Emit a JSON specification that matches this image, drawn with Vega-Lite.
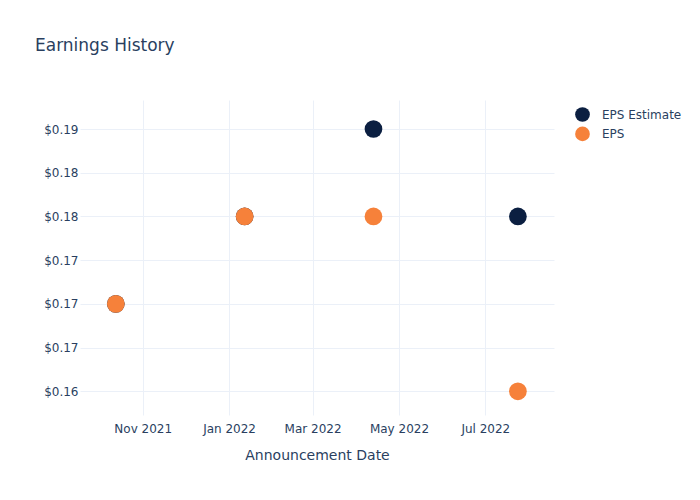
{
  "$schema": "https://vega.github.io/schema/vega-lite/v6.json",
  "width": 474,
  "height": 315,
  "autosize": {"type": "none"},
  "padding": {"left": 80, "top": 100, "right": 146, "bottom": 85},
  "background": "white",
  "config": {
    "view": {"stroke": null},
    "font": "DejaVu Sans"
  },
  "title": {
    "text": "Earnings History",
    "anchor": "start",
    "frame": "group",
    "dx": -45,
    "offset": 32,
    "baseline": "alphabetic",
    "fontSize": 17,
    "fontWeight": "normal",
    "color": "#2a3f5f",
    "font": "DejaVu Sans"
  },
  "data": {
    "values": [
      {"date": "2021-10-13", "series": "EPS Estimate", "value": 0.17},
      {"date": "2022-01-12", "series": "EPS Estimate", "value": 0.18},
      {"date": "2022-04-13", "series": "EPS Estimate", "value": 0.19},
      {"date": "2022-07-24", "series": "EPS Estimate", "value": 0.18},
      {"date": "2021-10-13", "series": "EPS", "value": 0.17},
      {"date": "2022-01-12", "series": "EPS", "value": 0.18},
      {"date": "2022-04-13", "series": "EPS", "value": 0.18},
      {"date": "2022-07-24", "series": "EPS", "value": 0.16}
    ]
  },
  "mark": {"type": "point", "filled": true, "opacity": 1, "size": 314},
  "encoding": {
    "x": {
      "field": "date",
      "type": "temporal",
      "scale": {
        "type": "utc",
        "domain": [
          {"year": 2021, "month": 9, "date": 17, "hours": 17, "utc": true},
          {"year": 2022, "month": 8, "date": 18, "hours": 12, "utc": true}
        ]
      },
      "axis": {
        "title": "Announcement Date",
        "titleFontSize": 14,
        "titleFontWeight": "normal",
        "titleColor": "#2a3f5f",
        "titlePadding": 14,
        "labelExpr": "utcFormat(datum.value, '%b %Y')",
        "values": [
          {"year": 2021, "month": 11, "date": 1, "utc": true},
          {"year": 2022, "month": 1, "date": 1, "utc": true},
          {"year": 2022, "month": 3, "date": 1, "utc": true},
          {"year": 2022, "month": 5, "date": 1, "utc": true},
          {"year": 2022, "month": 7, "date": 1, "utc": true}
        ],
        "labelFontSize": 12,
        "labelColor": "#2a3f5f",
        "labelPadding": 8,
        "ticks": false,
        "domain": false,
        "grid": true,
        "gridColor": "#ebf0f8",
        "gridWidth": 1,
        "labelFlush": false,
        "labelOverlap": false
      }
    },
    "y": {
      "field": "value",
      "type": "quantitative",
      "scale": {"domain": [0.15729, 0.193317], "nice": false, "zero": false},
      "axis": {
        "title": null,
        "values": [0.16, 0.165, 0.17, 0.175, 0.18, 0.18499999999999997, 0.19],
        "format": "$.2f",
        "labelFontSize": 12,
        "labelColor": "#2a3f5f",
        "labelPadding": 2,
        "ticks": false,
        "domain": false,
        "grid": true,
        "gridColor": "#ebf0f8",
        "gridWidth": 1,
        "labelOverlap": false
      }
    },
    "color": {
      "field": "series",
      "type": "nominal",
      "scale": {"domain": ["EPS Estimate", "EPS"], "range": ["#0b1f41", "#f6813a"]},
      "legend": {
        "title": null,
        "orient": "none",
        "legendX": 495,
        "legendY": 7,
        "padding": 0,
        "symbolType": "circle",
        "symbolSize": 216,
        "symbolOpacity": 1,
        "symbolStrokeWidth": 0,
        "labelFontSize": 12,
        "labelColor": "#2a3f5f",
        "labelOffset": 12,
        "rowPadding": 4.4
      }
    }
  }
}
